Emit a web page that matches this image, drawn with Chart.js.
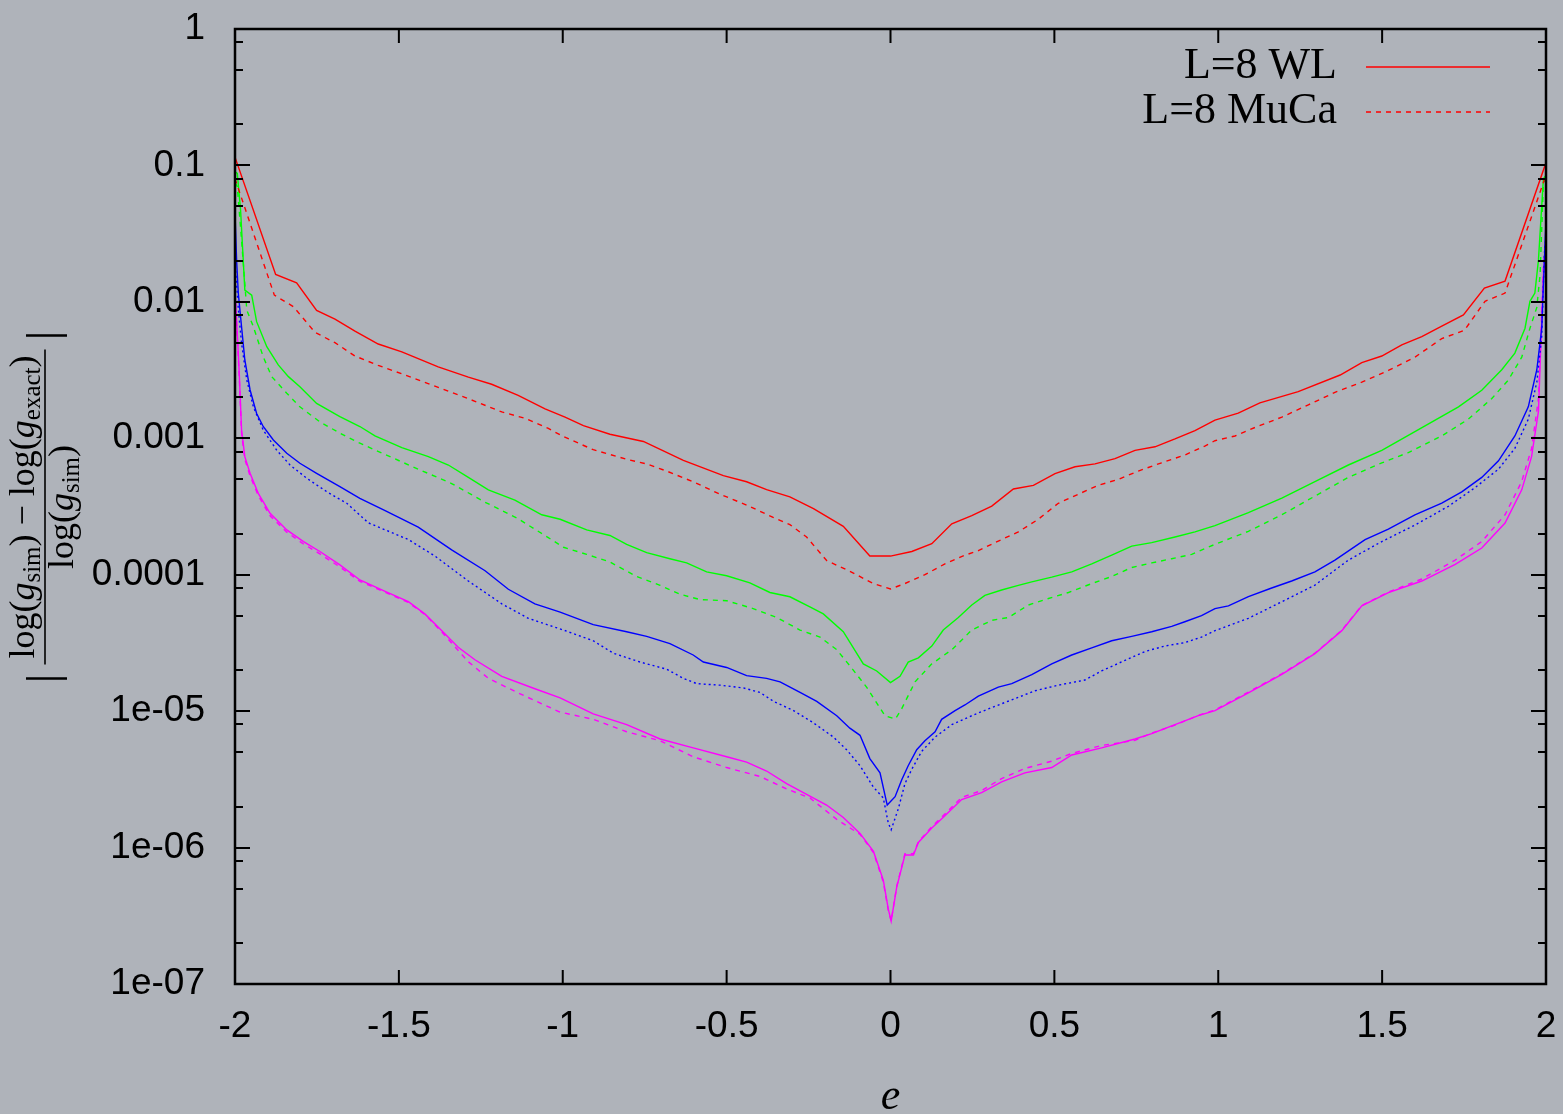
<!DOCTYPE html>
<html lang="en">
<head>
<meta charset="UTF-8">
<title>Relative error of log g</title>
<script src="https://cdn.jsdelivr.net/npm/chart.js"></script>
<style>
  html, body { margin: 0; padding: 0; background: #afb3ba; }
  canvas { display: block; }
</style>
</head>
<body>
<canvas id="errChart" width="1563" height="1114"></canvas>
<script>
// values: energy per spin e and relative error
const wl8E = [-2, -1.876, -1.812, -1.751, -1.695, -1.634, -1.563, -1.491, -1.38, -1.288, -1.217, -1.136, -1.054, -0.993, -0.937, -0.856, -0.754, -0.632, -0.51, -0.439, -0.378, -0.307, -0.235, -0.144, -0.063, 0, 0.065, 0.126, 0.187, 0.248, 0.309, 0.375, 0.436, 0.502, 0.563, 0.624, 0.685, 0.746, 0.807, 0.868, 0.929, 0.99, 1.061, 1.127, 1.244, 1.372, 1.438, 1.499, 1.56, 1.621, 1.682, 1.748, 1.812, 1.875, 2];
const wl8V = [0.115, 0.0159, 0.0138, 0.00866, 0.00748, 0.0061, 0.00491, 0.0043, 0.00334, 0.00281, 0.00249, 0.00206, 0.00164, 0.00143, 0.00124, 0.00107, 0.000948, 0.000689, 0.000532, 0.00048, 0.00042, 0.000372, 0.000305, 0.000226, 0.000137, 0.000137, 0.000148, 0.000169, 0.000236, 0.000271, 0.000318, 0.000425, 0.000452, 0.000551, 0.000618, 0.000649, 0.00071, 0.000815, 0.000866, 0.000989, 0.00114, 0.00136, 0.00153, 0.00182, 0.0022, 0.00291, 0.00359, 0.00401, 0.00484, 0.00557, 0.00664, 0.00802, 0.0126, 0.0142, 0.105];

const muca8E = [-2, -1.88, -1.822, -1.756, -1.695, -1.634, -1.563, -1.491, -1.39, -1.288, -1.186, -1.115, -1.044, -0.998, -0.907, -0.805, -0.744, -0.683, -0.602, -0.52, -0.439, -0.358, -0.307, -0.256, -0.195, -0.124, -0.052, 0, 0.044, 0.105, 0.166, 0.227, 0.268, 0.319, 0.39, 0.451, 0.512, 0.573, 0.634, 0.695, 0.756, 0.827, 0.898, 0.959, 0.99, 1.051, 1.112, 1.194, 1.275, 1.356, 1.438, 1.519, 1.6, 1.682, 1.751, 1.814, 1.875, 2];
const muca8V = [0.08, 0.0112, 0.00923, 0.00598, 0.00502, 0.00401, 0.00342, 0.00297, 0.00241, 0.00195, 0.00156, 0.0014, 0.00118, 0.00103, 0.000825, 0.000702, 0.000649, 0.000575, 0.00048, 0.000389, 0.000324, 0.000263, 0.000233, 0.000189, 0.000127, 0.000106, 0.000086, 0.0000786, 0.0000861, 0.0001, 0.00012, 0.000139, 0.00015, 0.000172, 0.000206, 0.000255, 0.000334, 0.000389, 0.000452, 0.0005, 0.000575, 0.000661, 0.000754, 0.000877, 0.00096, 0.00104, 0.0012, 0.00143, 0.00176, 0.00217, 0.00258, 0.00314, 0.00393, 0.00538, 0.00619, 0.0101, 0.0116, 0.085];

const wl16E = [-2, -1.993, -1.983, -1.97, -1.949, -1.934, -1.903, -1.868, -1.837, -1.802, -1.751, -1.68, -1.619, -1.573, -1.491, -1.41, -1.349, -1.288, -1.227, -1.146, -1.064, -1.008, -0.927, -0.856, -0.805, -0.744, -0.673, -0.622, -0.561, -0.5, -0.429, -0.368, -0.307, -0.246, -0.205, -0.144, -0.083, -0.042, 0, 0.029, 0.054, 0.085, 0.126, 0.161, 0.207, 0.248, 0.288, 0.339, 0.39, 0.431, 0.492, 0.553, 0.614, 0.675, 0.736, 0.797, 0.868, 0.929, 0.99, 1.092, 1.194, 1.295, 1.397, 1.499, 1.6, 1.733, 1.804, 1.865, 1.905, 1.936, 1.951, 1.966, 1.977, 1.992, 2];
const wl16V = [0.09, 0.0875, 0.0471, 0.0122, 0.0112, 0.00716, 0.00469, 0.00345, 0.00283, 0.00239, 0.0018, 0.00144, 0.00122, 0.00104, 0.000855, 0.000733, 0.000637, 0.000517, 0.000419, 0.000352, 0.000275, 0.000255, 0.000213, 0.000194, 0.000167, 0.000145, 0.000131, 0.000122, 0.000105, 0.0000983, 0.0000872, 0.0000741, 0.0000689, 0.0000582, 0.0000516, 0.0000382, 0.0000222, 0.0000197, 0.0000162, 0.000018, 0.0000229, 0.0000246, 0.00003, 0.0000393, 0.0000486, 0.00006, 0.0000706, 0.0000773, 0.0000836, 0.0000887, 0.000096, 0.000105, 0.00012, 0.000139, 0.000162, 0.000172, 0.000189, 0.000206, 0.000229, 0.000285, 0.000364, 0.000482, 0.000637, 0.000814, 0.00112, 0.0017, 0.00225, 0.00318, 0.00421, 0.00641, 0.0101, 0.0116, 0.0203, 0.0795, 0.085];

const muca16E = [-2, -1.993, -1.98, -1.964, -1.944, -1.914, -1.888, -1.842, -1.802, -1.741, -1.68, -1.629, -1.542, -1.441, -1.339, -1.237, -1.136, -1.044, -0.998, -0.927, -0.856, -0.775, -0.703, -0.642, -0.581, -0.5, -0.419, -0.347, -0.276, -0.215, -0.164, -0.124, -0.073, -0.017, 0.015, 0.034, 0.075, 0.126, 0.187, 0.248, 0.309, 0.36, 0.421, 0.482, 0.543, 0.614, 0.675, 0.736, 0.797, 0.858, 0.919, 0.99, 1.092, 1.194, 1.295, 1.397, 1.499, 1.58, 1.682, 1.763, 1.834, 1.885, 1.926, 1.951, 1.972, 1.982, 1.992, 2];
const muca16V = [0.075, 0.07, 0.0284, 0.0087, 0.00657, 0.00396, 0.00283, 0.00214, 0.0017, 0.00132, 0.00109, 0.000944, 0.00076, 0.000594, 0.000466, 0.00034, 0.000257, 0.000187, 0.000159, 0.000141, 0.000124, 0.0000971, 0.0000836, 0.0000719, 0.0000657, 0.0000645, 0.0000565, 0.0000486, 0.0000393, 0.0000349, 0.0000282, 0.0000215, 0.000015, 0.00000926, 0.00000876, 0.0000104, 0.0000164, 0.0000222, 0.0000282, 0.0000393, 0.0000463, 0.0000486, 0.00006, 0.0000669, 0.0000741, 0.0000861, 0.0000971, 0.000113, 0.000122, 0.000131, 0.000141, 0.000167, 0.000208, 0.000275, 0.000377, 0.000517, 0.00066, 0.000786, 0.00104, 0.00138, 0.00195, 0.00267, 0.00393, 0.00641, 0.0091, 0.0159, 0.074, 0.08];

const wl32E = [-2, -1.995, -1.99, -1.98, -1.97, -1.954, -1.934, -1.914, -1.883, -1.842, -1.802, -1.751, -1.68, -1.619, -1.542, -1.441, -1.339, -1.237, -1.166, -1.085, -1.008, -0.907, -0.805, -0.744, -0.673, -0.602, -0.571, -0.5, -0.439, -0.378, -0.337, -0.276, -0.225, -0.164, -0.124, -0.093, -0.063, -0.032, -0.01, 0.014, 0.034, 0.054, 0.08, 0.105, 0.136, 0.156, 0.197, 0.227, 0.268, 0.329, 0.37, 0.431, 0.492, 0.553, 0.614, 0.675, 0.736, 0.797, 0.858, 0.898, 0.949, 0.99, 1.031, 1.092, 1.163, 1.224, 1.295, 1.356, 1.448, 1.519, 1.6, 1.682, 1.743, 1.804, 1.855, 1.905, 1.946, 1.972, 1.987, 1.995, 2];
const wl32V = [0.045, 0.02, 0.0116, 0.00657, 0.00375, 0.00226, 0.00152, 0.00122, 0.000971, 0.000776, 0.000656, 0.000554, 0.000442, 0.000363, 0.000295, 0.000223, 0.000152, 0.000107, 0.0000782, 0.0000612, 0.0000532, 0.0000431, 0.0000382, 0.0000353, 0.0000313, 0.0000258, 0.0000229, 0.0000209, 0.0000182, 0.0000174, 0.0000164, 0.0000137, 0.0000118, 0.00000926, 0.0000075, 0.00000665, 0.00000449, 0.00000353, 0.00000205, 0.00000236, 0.00000313, 0.00000398, 0.00000522, 0.00000607, 0.00000706, 0.00000871, 0.0000101, 0.0000111, 0.0000129, 0.000015, 0.0000159, 0.0000185, 0.0000222, 0.0000258, 0.0000291, 0.0000328, 0.0000353, 0.0000382, 0.0000418, 0.0000452, 0.0000501, 0.0000565, 0.0000591, 0.000069, 0.0000799, 0.0000899, 0.000105, 0.000128, 0.000181, 0.000216, 0.000275, 0.000335, 0.000405, 0.000517, 0.000684, 0.00104, 0.0017, 0.00318, 0.00641, 0.02, 0.04];

const muca32E = [-2, -1.99, -1.98, -1.964, -1.944, -1.914, -1.873, -1.832, -1.781, -1.72, -1.659, -1.593, -1.471, -1.39, -1.288, -1.186, -1.105, -0.998, -0.907, -0.846, -0.764, -0.683, -0.632, -0.591, -0.52, -0.449, -0.398, -0.357, -0.296, -0.235, -0.174, -0.134, -0.093, -0.052, -0.022, -0.007, 0.002, 0.024, 0.044, 0.065, 0.095, 0.136, 0.187, 0.248, 0.299, 0.37, 0.441, 0.512, 0.593, 0.644, 0.716, 0.777, 0.837, 0.898, 0.949, 0.99, 1.092, 1.194, 1.295, 1.397, 1.499, 1.6, 1.702, 1.783, 1.855, 1.905, 1.946, 1.972, 1.987, 1.995, 2];
const muca32V = [0.02, 0.009, 0.00497, 0.00267, 0.0017, 0.00115, 0.00082, 0.000637, 0.000509, 0.000406, 0.000334, 0.00024, 0.000181, 0.000137, 0.0000899, 0.0000612, 0.0000479, 0.0000393, 0.0000328, 0.0000266, 0.0000229, 0.0000203, 0.0000174, 0.0000159, 0.0000155, 0.0000148, 0.0000137, 0.0000118, 0.0000101, 0.0000082, 0.00000645, 0.00000522, 0.00000398, 0.00000277, 0.00000231, 0.00000152, 0.00000135, 0.00000193, 0.00000294, 0.00000375, 0.00000507, 0.00000645, 0.00000796, 0.00000926, 0.0000104, 0.0000121, 0.0000141, 0.0000155, 0.0000169, 0.0000197, 0.0000236, 0.0000274, 0.00003, 0.0000318, 0.0000349, 0.0000389, 0.0000479, 0.0000634, 0.0000839, 0.000128, 0.000175, 0.000231, 0.000317, 0.000434, 0.000594, 0.000843, 0.00138, 0.00258, 0.00557, 0.0226, 0.03];

const wl64E = [-2, -1.992, -1.987, -1.98, -1.97, -1.954, -1.929, -1.893, -1.842, -1.791, -1.741, -1.68, -1.619, -1.542, -1.471, -1.42, -1.369, -1.319, -1.268, -1.186, -1.085, -1.008, -0.907, -0.805, -0.703, -0.602, -0.5, -0.439, -0.378, -0.317, -0.246, -0.195, -0.144, -0.093, -0.052, -0.022, -0.007, 0.002, 0.019, 0.044, 0.07, 0.085, 0.126, 0.166, 0.217, 0.278, 0.339, 0.41, 0.492, 0.553, 0.644, 0.746, 0.797, 0.868, 0.939, 0.99, 1.092, 1.194, 1.295, 1.377, 1.438, 1.519, 1.621, 1.723, 1.804, 1.875, 1.926, 1.956, 1.977, 1.992, 2];
const wl64V = [0.012, 0.00525, 0.00299, 0.00115, 0.000733, 0.000554, 0.000395, 0.000282, 0.000213, 0.000175, 0.000148, 0.000118, 0.0000915, 0.0000755, 0.0000634, 0.0000514, 0.0000388, 0.0000294, 0.0000238, 0.000018, 0.0000146, 0.0000125, 0.00000954, 0.00000796, 0.00000625, 0.00000538, 0.00000463, 0.00000423, 0.00000364, 0.00000294, 0.00000238, 0.00000205, 0.00000166, 0.00000127, 0.000000937, 0.000000578, 0.000000357, 0.000000289, 0.000000513, 0.000000882, 0.000000882, 0.00000109, 0.00000139, 0.00000171, 0.00000225, 0.00000253, 0.00000303, 0.00000353, 0.00000386, 0.00000477, 0.00000538, 0.00000625, 0.00000685, 0.00000796, 0.00000926, 0.0000101, 0.0000136, 0.0000186, 0.0000264, 0.0000389, 0.0000591, 0.0000739, 0.0000899, 0.000119, 0.000157, 0.000239, 0.000419, 0.000733, 0.00158, 0.0159, 0.03];

const muca64E = [-2, -1.992, -1.987, -1.98, -1.97, -1.954, -1.929, -1.893, -1.842, -1.791, -1.741, -1.68, -1.619, -1.542, -1.471, -1.42, -1.369, -1.288, -1.227, -1.136, -1.008, -0.907, -0.805, -0.703, -0.602, -0.5, -0.398, -0.317, -0.246, -0.164, -0.093, -0.052, -0.022, -0.007, 0.002, 0.019, 0.044, 0.07, 0.085, 0.126, 0.166, 0.217, 0.278, 0.339, 0.41, 0.492, 0.553, 0.644, 0.746, 0.797, 0.868, 0.939, 0.99, 1.092, 1.194, 1.295, 1.377, 1.438, 1.519, 1.621, 1.723, 1.804, 1.875, 1.926, 1.956, 1.977, 1.992, 2];
const muca64V = [0.012, 0.005, 0.0028, 0.0011, 0.0007, 0.00053, 0.00038, 0.00027, 0.000205, 0.000168, 0.000142, 0.000114, 0.0000895, 0.0000745, 0.0000625, 0.000051, 0.000038, 0.000023, 0.0000174, 0.0000136, 0.00000983, 0.00000871, 0.00000706, 0.00000607, 0.00000463, 0.00000386, 0.00000332, 0.00000269, 0.00000231, 0.00000161, 0.00000125, 0.00000092, 0.00000056, 0.00000035, 0.00000029, 0.00000052, 0.0000009, 0.0000009, 0.0000011, 0.00000142, 0.00000176, 0.00000233, 0.00000262, 0.0000032, 0.0000038, 0.0000043, 0.0000049, 0.0000056, 0.0000061, 0.0000069, 0.0000079, 0.0000093, 0.0000102, 0.0000138, 0.0000188, 0.0000266, 0.0000392, 0.0000595, 0.0000745, 0.000093, 0.000128, 0.000175, 0.000275, 0.000482, 0.000843, 0.00195, 0.018, 0.03];

// axes
const xTickValues = [-2, -1.5, -1, -0.5, 0, 0.5, 1, 1.5, 2];
const xTickLabels = ['-2', '-1.5', '-1', '-0.5', '0', '0.5', '1', '1.5', '2'];
const yTickValues = [1e-7, 1e-6, 1e-5, 1e-4, 1e-3, 1e-2, 1e-1, 1];
const yTickLabels = ['1e-07', '1e-06', '1e-05', '0.0001', '0.001', '0.01', '0.1', '1'];
const yMinorSteps = [2, 5, 8];

function toPoints(es, vs) {
    return es.map((e, i) => ({ x: e, y: vs[i] }));
}

function lineSet(label, es, vs, color, dash) {
    return {
        label: label,
        data: toPoints(es, vs),
        borderColor: color,
        borderWidth: 1.4,
        borderDash: dash,
        pointRadius: 0,
        tension: 0,
        fill: false
    };
}

const datasets = [
    lineSet('L=8 WL', wl8E, wl8V, '#ff0000', []),
    lineSet('L=8 MuCa', muca8E, muca8V, '#ff0000', [5, 5]),
    lineSet('', wl16E, wl16V, '#00ff00', []),
    lineSet('', muca16E, muca16V, '#00ff00', [5, 5]),
    lineSet('', wl32E, wl32V, '#0000ff', []),
    lineSet('', muca32E, muca32V, '#0000ff', [2, 3]),
    lineSet('', wl64E, wl64V, '#ff00ff', []),
    lineSet('', muca64E, muca64V, '#ff00ff', [5, 5])
];

function isMajor(v) {
    const l = Math.log10(v);
    return Math.abs(l - Math.round(l)) < 1e-6;
}

// inward tick marks on all four sides and the full frame
const frameTicks = {
    id: 'frameTicks',
    afterDatasetsDraw(chart) {
        const { ctx, chartArea: a, scales: { x, y } } = chart;
        ctx.save();
        ctx.strokeStyle = '#000';
        ctx.lineWidth = 2;
        ctx.beginPath();
        x.ticks.forEach(t => {
            const px = x.getPixelForValue(t.value);
            ctx.moveTo(px, a.bottom); ctx.lineTo(px, a.bottom - 14);
            ctx.moveTo(px, a.top); ctx.lineTo(px, a.top + 14);
        });
        y.ticks.forEach(t => {
            const py = Math.round(y.getPixelForValue(t.value));
            const len = isMajor(t.value) ? 15 : 8;
            ctx.moveTo(a.left, py); ctx.lineTo(a.left + len, py);
            ctx.moveTo(a.right, py); ctx.lineTo(a.right - len, py);
        });
        ctx.stroke();
        ctx.lineWidth = 2.5;
        ctx.strokeRect(a.left, a.top, a.width, a.height);
        ctx.restore();
    }
};

// gnuplot style key: text on the left, line sample on the right
const keyBox = {
    id: 'keyBox',
    afterDraw(chart) {
        const ctx = chart.ctx;
        const shown = chart.data.datasets.filter(d => d.label);
        ctx.save();
        ctx.font = '44px "Liberation Serif"';
        ctx.fillStyle = '#000';
        ctx.textAlign = 'right';
        ctx.textBaseline = 'alphabetic';
        shown.forEach((d, i) => {
            const base = 78 + i * 45;
            ctx.fillText(d.label, 1337, base);
            ctx.strokeStyle = d.borderColor;
            ctx.lineWidth = 1.4;
            ctx.setLineDash(d.borderDash);
            ctx.beginPath();
            ctx.moveTo(1366, base - 11);
            ctx.lineTo(1490, base - 11);
            ctx.stroke();
        });
        ctx.restore();
    }
};

function drawRuns(ctx, runs, x0, base) {
    let x = x0;
    runs.forEach(r => {
        ctx.font = r.font;
        ctx.fillText(r.text, x, base + (r.dy || 0));
        x += ctx.measureText(r.text).width;
    });
}

function runsWidth(ctx, runs) {
    let w = 0;
    runs.forEach(r => { ctx.font = r.font; w += ctx.measureText(r.text).width; });
    return w;
}

// axis titles: |(log g_sim - log g_exact) / log g_sim| and e
const axisTitles = {
    id: 'axisTitles',
    afterDraw(chart) {
        const ctx = chart.ctx;
        const rm = '36px "Liberation Serif"';
        const it = 'italic 36px "Liberation Serif"';
        const sub = '25px "Liberation Serif"';
        const num = [
            { text: 'log(', font: rm }, { text: 'g', font: it }, { text: 'sim', font: sub, dy: 6 },
            { text: ')', font: rm }, { text: ' \u2212 ', font: rm }, { text: 'log(', font: rm },
            { text: 'g', font: it }, { text: 'exact', font: sub, dy: 6 }, { text: ')', font: rm }
        ];
        const den = [
            { text: 'log(', font: rm }, { text: 'g', font: it }, { text: 'sim', font: sub, dy: 6 },
            { text: ')', font: rm }
        ];
        ctx.save();
        ctx.fillStyle = '#000';
        ctx.strokeStyle = '#000';
        ctx.textAlign = 'left';
        ctx.textBaseline = 'alphabetic';
        ctx.translate(45, 507);
        ctx.rotate(-Math.PI / 2);
        const wn = runsWidth(ctx, num);
        const wd = runsWidth(ctx, den);
        const wl = Math.max(wn, wd) + 12;
        drawRuns(ctx, num, -wn / 2, -11);
        drawRuns(ctx, den, -wd / 2, 28);
        ctx.lineWidth = 1.6;
        ctx.beginPath();
        ctx.moveTo(-wl / 2, 0); ctx.lineTo(wl / 2, 0);
        ctx.stroke();
        ctx.lineWidth = 2.6;
        ctx.beginPath();
        ctx.moveTo(-wl / 2 - 14, -19); ctx.lineTo(-wl / 2 - 14, 22);
        ctx.moveTo(wl / 2 + 14, -19); ctx.lineTo(wl / 2 + 14, 22);
        ctx.stroke();
        ctx.restore();

        ctx.save();
        ctx.fillStyle = '#000';
        ctx.font = 'italic 44px "Liberation Serif"';
        ctx.textAlign = 'center';
        ctx.fillText('e', chart.scales.x.getPixelForValue(0), 1109);
        ctx.restore();
    }
};

const ctx = document.getElementById('errChart').getContext('2d');
new Chart(ctx, {
    type: 'line',
    data: { datasets: datasets },
    options: {
        responsive: false,
        animation: false,
        layout: { padding: { top: 29, right: 17, left: 0, bottom: 0 } },
        plugins: { legend: { display: false }, tooltip: { enabled: false } },
        scales: {
            x: {
                type: 'linear',
                min: -2,
                max: 2,
                afterFit: s => {
                    s.height = 130;
                    s.paddingLeft = 0;
                    s.paddingRight = 0;
                },
                afterBuildTicks: s => { s.ticks = xTickValues.map(v => ({ value: v })); },
                grid: { display: false, drawTicks: false },
                border: { display: false },
                ticks: {
                    autoSkip: false,
                    maxRotation: 0,
                    padding: 21,
                    color: '#000',
                    font: { family: 'Liberation Sans', size: 37 },
                    callback: v => {
                        const i = xTickValues.indexOf(v);
                        return i >= 0 ? xTickLabels[i] : '';
                    }
                }
            },
            y: {
                type: 'logarithmic',
                min: 1e-7,
                max: 1,
                afterFit: s => {
                    s.width = 235;
                    s.paddingTop = 0;
                    s.paddingBottom = 0;
                },
                afterBuildTicks: s => {
                    const t = [];
                    yTickValues.forEach((v, i) => {
                        t.push({ value: v });
                        if (i < yTickValues.length - 1) {
                            yMinorSteps.forEach(m => t.push({ value: m * v }));
                        }
                    });
                    s.ticks = t;
                },
                grid: { display: false, drawTicks: false },
                border: { display: false },
                ticks: {
                    autoSkip: false,
                    padding: 30,
                    color: '#000',
                    font: { family: 'Liberation Sans', size: 37 },
                    callback: v => {
                        if (!isMajor(v)) return '';
                        const i = yTickValues.findIndex(t => Math.abs(Math.log10(t) - Math.log10(v)) < 1e-6);
                        return i >= 0 ? yTickLabels[i] : '';
                    }
                }
            }
        }
    },
    plugins: [frameTicks, keyBox, axisTitles]
});
</script>
</body>
</html>
